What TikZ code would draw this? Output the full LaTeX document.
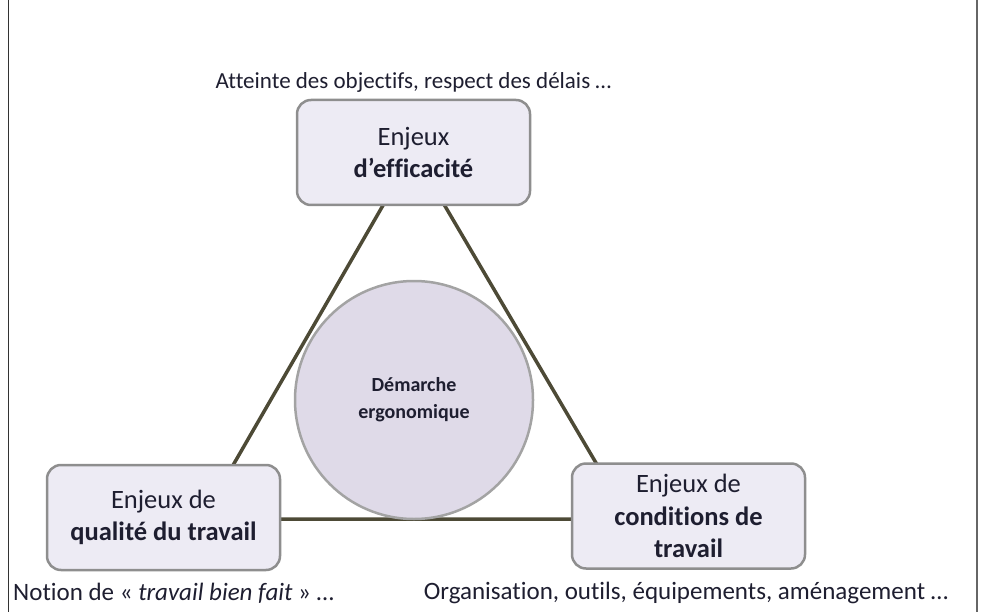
\documentclass[tikz,border=0pt]{standalone}
\usepackage{fontspec}
\setmainfont{Carlito}[Ligatures=NoCommon]
\usetikzlibrary{backgrounds}
\definecolor{boxfill}{HTML}{EDEBF4}
\definecolor{boxline}{HTML}{8E8E8E}
\definecolor{discfill}{HTML}{DFDAE8}
\definecolor{discline}{HTML}{A3A3A3}
\definecolor{linkcol}{HTML}{4D4A36}
\definecolor{textcol}{HTML}{1E1E30}

\tikzset{%
  every node/.style={
    inner sep=1pt,
    align=center,
    text=textcol
  },
  enjeu/.style={
    draw=boxline, fill=boxfill, line width=2.5pt, rounded corners=14pt,
    minimum width=233pt, minimum height=105pt, font=\fontsize{26.5}{32.5}\selectfont
  },
  note/.style={font=\fontsize{23}{26}\selectfont},
  link/.style={draw=linkcol, line width=3.5pt}
}

\begin{document}
\begin{tikzpicture}[x=1pt,y=-1pt]
        \useasboundingbox (0,0) rectangle (984,612);
        \draw[line width=1pt, black!80] (8,0) -- (8,612);
        \draw[line width=2pt, black!60] (977,0) -- (977,612);
        \node[circle, draw=discline, fill=discfill, line width=2.5pt, minimum size=238pt,
          font=\bfseries\fontsize{20}{27}\selectfont] at (414,400) (0) {Démarche\\ergonomique};
        \node[enjeu] at (413.5,152.5) (1) {Enjeux\\\textbf{d’efficacité}};
        \node[enjeu] at (163.5,517.5) (2) {Enjeux de\\\textbf{qualité du travail}};
        \node[enjeu] at (688.5,516) (3) {Enjeux de\\\textbf{conditions de}\\\textbf{travail}};
        \coordinate (4) at (202,519);
        \coordinate (5) at (629,519);
        \node[note] at (413.5,82) (6) {Atteinte des objectifs, respect des délais …};
        \node[note, font=\fontsize{25}{28}\selectfont, anchor=west] at (12,593) (7) {Notion de « \textit{travail bien fait} » …};
        \node[note, font=\fontsize{25}{28}\selectfont] at (686,593) (8) {Organisation, outils, équipements, aménagement …};
        \begin{scope}[on background layer]
          \draw[link] (1.center) -- (4) -- (5) -- cycle;
        \end{scope}
      \end{tikzpicture}
\end{document}
